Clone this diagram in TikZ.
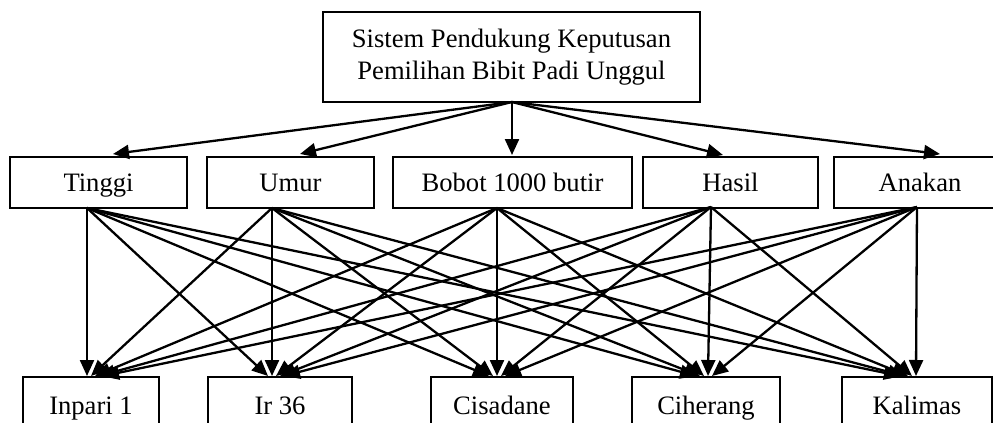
\documentclass[tikz,border=0pt]{standalone}
\usepackage{fontspec}
\setmainfont{Liberation Serif}
\usetikzlibrary{arrows.meta}
\begin{document}
\begin{tikzpicture}[x=0.5pt,y=-0.5pt,
  box/.style={draw,line width=1pt,inner sep=0pt,align=center,
    font=\fontsize{13.3}{16.2}\selectfont},
  midbox/.style={box,minimum height=25.5pt,text height=8.8pt,text depth=0pt},
  lowbox/.style={box,minimum height=29pt,text height=8.8pt,text depth=0pt},
  arr/.style={line width=1.15pt,-{Triangle[length=8pt,width=7pt]}}]
\clip (0,0) rectangle (993,423);
% top node
\node[box,minimum width=188.5pt,minimum height=45pt] (top) at (511.5,57)
  {Sistem Pendukung Keputusan\\Pemilihan Bibit Padi Unggul};
% criteria
\node[midbox,minimum width=88.5pt] (tinggi) at (98.5,182.5) {Tinggi};
\node[midbox,minimum width=83.5pt] (umur) at (290.5,182.5) {Umur};
\node[midbox,minimum width=119.5pt] (bobot) at (512.5,182.5) {Bobot 1000 butir};
\node[midbox,minimum width=87.5pt] (hasil) at (730.5,182.5) {Hasil};
\node[midbox,minimum width=86pt] (anakan) at (920,182.5) {Anakan};
% alternatives
\node[lowbox,minimum width=68pt] (inpari) at (91,406) {Inpari 1};
\node[lowbox,minimum width=72pt] (ir) at (280,406) {Ir 36};
\node[lowbox,minimum width=71pt] (cisadane) at (502,406) {Cisadane};
\node[lowbox,minimum width=74pt] (ciherang) at (706,406) {Ciherang};
\node[lowbox,minimum width=75pt] (kalimas) at (917,406) {Kalimas};
% attachment points
\coordinate (t0) at (512,102);
\coordinate (a0) at (113,154);
\coordinate (a1) at (300,154);
\coordinate (a2) at (512,155);
\coordinate (a3) at (723,155);
\coordinate (a4) at (940,154);
\coordinate (s0) at (87,208);
\coordinate (s1) at (272,208);
\coordinate (s2) at (497,208);
\coordinate (s3) at (711,207);
\coordinate (s4) at (917,207);
\coordinate (b0) at (87,376);
\coordinate (b1) at (272,376);
\coordinate (b2) at (497,376);
\coordinate (b3) at (708,376);
\coordinate (b4) at (916,376);
% arrows from goal to criteria
\foreach \k in {0,...,4}{\draw[arr] (t0) -- (a\k);}
% arrows from criteria to alternatives
\foreach \i in {0,...,4}{
  \foreach \j in {0,...,4}{
    \pgfmathtruncatemacro{\off}{2*(\i-\j)}
    \draw[arr] (s\i) -- ([xshift=\off pt]b\j);
  }
}
\end{tikzpicture}
\end{document}
